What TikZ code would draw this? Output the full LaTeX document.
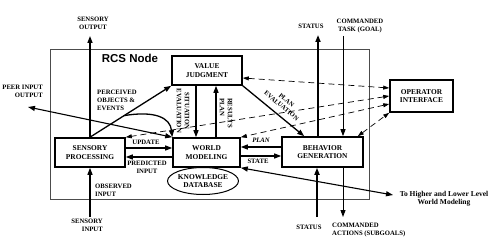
\documentclass[tikz,border=0pt]{standalone}
\usepackage{fontspec}
\setmainfont{Liberation Serif}
\setsansfont{Liberation Sans}
\usetikzlibrary{arrows.meta,shapes.geometric,calc}
\begin{document}
\begin{tikzpicture}[x=1pt,y=-1pt,
  box/.style={draw, line width=1.6pt, fill=white, inner sep=0pt, align=center,
    font=\bfseries\fontsize{7.4}{8.4}\selectfont},
  lbl/.style={font=\bfseries\fontsize{6.7}{8}\selectfont, align=center, inner sep=0pt},
  arr/.style={line width=1.3pt, -{Triangle[length=7pt,width=5pt]}},
  thinarr/.style={line width=0.9pt, -{Triangle[length=7pt,width=5pt]}},
  biarr/.style={line width=1.1pt, {Triangle[length=7pt,width=5pt]}-{Triangle[length=7pt,width=5pt]}},
  dsh/.style={line width=0.7pt, dash pattern=on 6pt off 4pt,
    {Triangle[length=6pt,width=4pt]}-{Triangle[length=6pt,width=4pt]}}
]
\useasboundingbox (0,0) rectangle (500,248);
% outer RCS node frame
\node[draw=black!70, line width=0.8pt, minimum width=319pt, minimum height=150pt, inner sep=0pt] (rcs) at (209.5,124) {};
\node[font=\sffamily\bfseries\fontsize{11.5}{13}\selectfont, inner sep=0pt] (trcs) at (130,58) {RCS Node};

% helper coordinates
\coordinate (so) at (90,36);
\coordinate (si) at (90,217);
\coordinate (peer) at (28,107);
\coordinate (ext) at (393,195);
\coordinate (stt) at (318,35);
\coordinate (ctk) at (343,36);
\coordinate (stb) at (317,217);
\coordinate (cab) at (343,217);
\coordinate (hU) at (0,148);
\coordinate (hPr) at (0,157);
\coordinate (hP) at (0,147);
\coordinate (hS) at (0,156);
\coordinate (vSE) at (196,0);
\coordinate (vPR) at (216,0);
\coordinate (vST) at (318,0);
\coordinate (vCT) at (343,0);
\coordinate (vSB) at (317,0);
\coordinate (d1a) at (0,78);
\coordinate (d1b) at (0,88);
\coordinate (d2) at (0,96);
\coordinate (d3) at (0,104);

% boxes
\node[box, minimum width=70pt, minimum height=29pt] (VJ) at (207,70.5) {VALUE\\JUDGMENT};
\node[box, minimum width=70pt, minimum height=29pt] (SP) at (90,152.5) {SENSORY\\PROCESSING};
\node[box, minimum width=67pt, minimum height=29pt] (WM) at (206.5,152.5) {WORLD\\MODELING};
\node[box, ellipse, line width=1pt, minimum width=68pt, minimum height=27pt] (KD) at (203,181) {KNOWLEDGE\\DATABASE};
\node[box, minimum width=81pt, minimum height=30pt] (BG) at (322.5,152) {BEHAVIOR\\GENERATION};
\node[box, minimum width=63pt, minimum height=32pt] (OI) at (421.5,96) {OPERATOR\\INTERFACE};

% dashed operator links
\draw[dsh] (VJ.east |- d1a) -- (OI.west |- d1b);
\draw[dsh] (OI.west |- d2) -- (SP.north east);
\draw[dsh] (OI.west |- d3) -- (WM.north east);
\coordinate (bgd) at ($(BG.north east)+(-6,0)$);
\draw[dsh] (bgd) -- (OI.south west);

% solid connectors
\draw[arr] (SP.north) -- (so);
\draw[arr] (si) -- (SP.south);
\draw[arr] (SP.north) -- (VJ.south west);
\coordinate (pb) at ($(SP.north)!0.42!(VJ.south west)$);
\draw[arr] (pb) .. controls ($(pb)+(30,-5)$) and ($(WM.north west)+(-2,-20)$) .. (WM.north west);
\draw[biarr] (peer) -- (WM.north west);
\draw[arr] (SP.east |- hU) -- (WM.west |- hU);
\draw[arr] (WM.west |- hPr) -- (SP.east |- hPr);
\draw[arr] (VJ.south -| vSE) -- (WM.north -| vSE);
\draw[arr] (WM.north -| vPR) -- (VJ.south -| vPR);
\draw[arr] (VJ.south east) -- ($(BG.north west)+(23,0)$);
\draw[arr] (BG.west |- hP) -- (WM.east |- hP);
\draw[arr] (WM.east |- hS) -- (BG.west |- hS);
\draw[biarr] (WM.south east) -- (ext);
\draw[arr, line width=1.6pt] (BG.north -| vST) -- (stt);
\draw[thinarr] (ctk) -- (BG.north -| vCT);
\draw[arr, line width=1.6pt] (stb) -- (BG.south -| vSB);
\draw[thinarr] (BG.south -| vCT) -- (cab);

% labels
\node[lbl] (tso) at (93,23) {SENSORY\\OUTPUT};
\node[lbl, align=right, anchor=east] (tpeer) at (43,91) {PEER INPUT\\OUTPUT};
\node[lbl, align=left, anchor=west] (tpe) at (97,100) {PERCEIVED\\OBJECTS \&\\EVENTS};
\node[lbl] (tup) at (146,142) {UPDATE};
\node[lbl] (tpr) at (147,167) {PREDICTED\\INPUT};
\node[lbl, align=left, anchor=west] (tob) at (95,190) {OBSERVED\\INPUT};
\node[lbl, align=right, anchor=east] (tsi) at (103,225) {SENSORY\\INPUT};
\node[lbl, rotate=-90] (tse) at (183,111) {SITUATION\\EVALUATION};
\node[lbl, rotate=-90, align=left] (tres) at (226,113) {RESULTS\\PLAN};
\node[lbl, rotate=-40, font=\bfseries\fontsize{6.5}{7.6}\selectfont] (tpev) at (284,103) {PLAN\\EVALUATION};
\node[lbl, font=\bfseries\itshape\fontsize{6.7}{8}\selectfont] (tplan) at (261,140) {PLAN};
\node[lbl] (tstate) at (258,161) {STATE};
\node[lbl] (tstt) at (311,26) {STATUS};
\node[lbl] (tctk) at (360,26) {COMMANDED\\TASK (GOAL)};
\node[lbl] (tstb) at (309,227) {STATUS};
\node[lbl, align=left, anchor=west] (tcab) at (332,230) {COMMANDED\\ACTIONS (SUBGOALS)};
\node[lbl, font=\bfseries\fontsize{7.5}{8}\selectfont] (text) at (444,199) {To Higher and Lower Level\\World Modeling};
\end{tikzpicture}
\end{document}
